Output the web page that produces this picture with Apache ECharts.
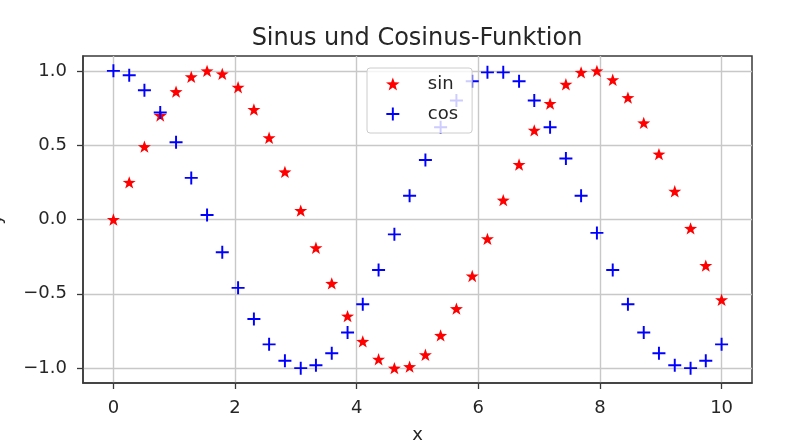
<!DOCTYPE html>
<html>
<head>
<meta charset="utf-8">
<script src="https://cdn.jsdelivr.net/npm/echarts@6/dist/echarts.min.js"></script>
<style>html,body{margin:0;padding:0;background:#fff;}#c{width:796px;height:447px;}</style>
</head>
<body>
<div id="c"></div>
<script>
const xValues = [0.00,0.26,0.51,0.77,1.03,1.28,1.54,1.79,2.05,2.31,2.56,2.82,3.08,3.33,3.59,3.85,4.10,4.36,4.62,4.87,5.13,5.38,5.64,5.90,6.15,6.41,6.67,6.92,7.18,7.44,7.69,7.95,8.21,8.46,8.72,8.97,9.23,9.49,9.74,10.00];
const sinValues = [0.00,0.25,0.49,0.70,0.86,0.96,1.00,0.98,0.89,0.74,0.55,0.32,0.06,-0.19,-0.43,-0.65,-0.82,-0.94,-1.00,-0.99,-0.91,-0.78,-0.60,-0.38,-0.13,0.13,0.37,0.60,0.78,0.91,0.99,1.00,0.94,0.82,0.65,0.44,0.19,-0.06,-0.31,-0.54];
const cosValues = [1.00,0.97,0.87,0.72,0.52,0.28,0.03,-0.22,-0.46,-0.67,-0.84,-0.95,-1.00,-0.98,-0.90,-0.76,-0.57,-0.34,-0.10,0.16,0.40,0.62,0.80,0.93,0.99,0.99,0.93,0.80,0.62,0.41,0.16,-0.09,-0.34,-0.57,-0.76,-0.90,-0.98,-1.00,-0.95,-0.84];
const xTicks = [0,2,4,6,8,10];
const yTicks = [-1.0,-0.5,0.0,0.5,1.0];

const STAR = 'path://M0,-10 L2.35,-3.24 L9.51,-3.09 L3.8,1.24 L5.88,8.09 L0,4 L-5.88,8.09 L-3.8,1.24 L-9.51,-3.09 L-2.35,-3.24 Z';
const PLUS = 'path://M-1.5,-10 L1.5,-10 L1.5,-1.5 L10,-1.5 L10,1.5 L1.5,1.5 L1.5,10 L-1.5,10 L-1.5,1.5 L-10,1.5 L-10,-1.5 L-1.5,-1.5 Z';

const font = 'DejaVu Sans';
const txt = '#262626';
const chart = echarts.init(document.getElementById('c'), null, {renderer: 'canvas'});
chart.setOption({
  animation: false,
  backgroundColor: '#fff',
  textStyle: {fontFamily: font},
  title: {
    text: 'Sinus und Cosinus-Funktion',
    left: 412, top: 22, textAlign: 'center',
    textStyle: {fontFamily: font, fontSize: 24, fontWeight: 'normal', color: txt}
  },
  grid: {left: 83, right: 44, top: 56, bottom: 64, show: true, borderColor: '#3a3a3a', borderWidth: 1.5,
    backgroundColor: 'transparent', outerBoundsMode: 'none', containLabel: false},
  legend: {
    orient: 'vertical', left: 367, top: 68,
    padding: [6, 14, 9, 19],
    itemWidth: 24, itemHeight: 13, itemGap: 10,
    backgroundColor: 'rgba(255,255,255,0.8)', borderColor: '#cccccc', borderWidth: 1, borderRadius: 3,
    textStyle: {fontFamily: font, fontSize: 18, color: txt, lineHeight: 20, padding: [0, 0, 0, 18]},
    data: [
      {name: 'sin', icon: STAR, itemStyle: {color: '#ff0000'}},
      {name: 'cos', icon: PLUS, itemStyle: {color: '#0000ff'}}
    ]
  },
  xAxis: {
    type: 'value', min: -0.5, max: 10.5,
    name: 'x', nameLocation: 'middle', nameGap: 43,
    nameTextStyle: {fontFamily: font, fontSize: 18, color: txt},
    axisLine: {show: true, onZero: false, lineStyle: {color: '#3a3a3a', width: 1.5}},
    axisTick: {show: true, length: 6, customValues: xTicks, lineStyle: {color: '#3a3a3a', width: 1.3}},
    axisLabel: {customValues: xTicks, margin: 16, fontFamily: font, fontSize: 18, color: txt, formatter: v => String(v)},
    splitLine: {show: true, lineStyle: {color: '#c8c8c8', width: 1.4}}
  },
  yAxis: {
    type: 'value', min: -1.1, max: 1.1,
    name: 'y', nameLocation: 'middle', nameGap: 78,
    nameTextStyle: {fontFamily: font, fontSize: 18, color: txt},
    axisLine: {show: true, onZero: false, lineStyle: {color: '#3a3a3a', width: 1.5}},
    axisTick: {show: true, length: 6, customValues: yTicks, lineStyle: {color: '#3a3a3a', width: 1.3}},
    axisLabel: {customValues: yTicks, margin: 16, fontFamily: font, fontSize: 18, color: txt,
      formatter: v => (v < 0 ? '\u2212' : '') + Math.abs(v).toFixed(1)},
    splitLine: {show: true, lineStyle: {color: '#c8c8c8', width: 1.4}}
  },
  series: [
    {name: 'sin', type: 'scatter', symbol: STAR, symbolSize: 13, symbolKeepAspect: true,
     itemStyle: {color: '#ff0000', opacity: 1}, data: xValues.map((x, i) => [x, sinValues[i]]), z: 3},
    {name: 'cos', type: 'scatter', symbol: PLUS, symbolSize: 13, symbolKeepAspect: true,
     itemStyle: {color: '#0000ff', opacity: 1}, data: xValues.map((x, i) => [x, cosValues[i]]), z: 3}
  ]
});
</script>
</body>
</html>
